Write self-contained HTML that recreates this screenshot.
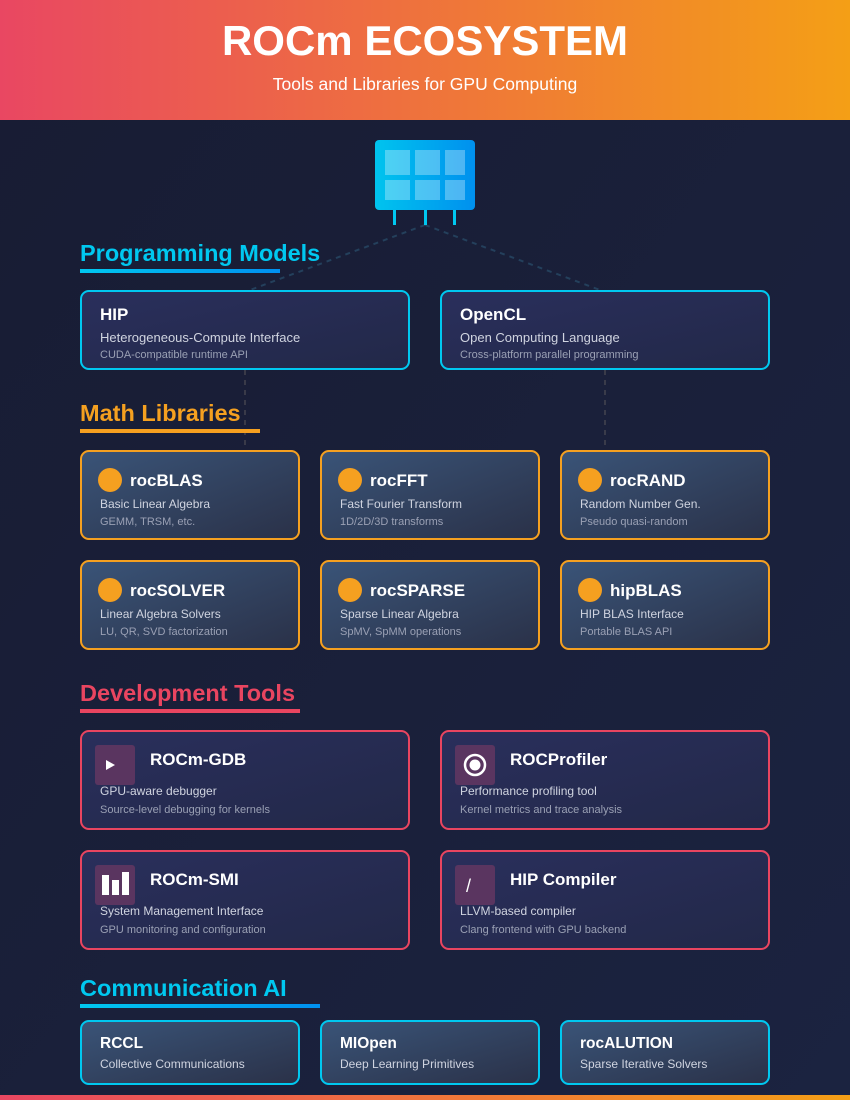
<!DOCTYPE html>
<html><head><meta charset="utf-8"><style>
html,body{margin:0;padding:0;width:850px;height:1100px;overflow:hidden;background:#1a1d35}
svg{display:block}
text{font-family:"Liberation Sans",sans-serif}
</style></head><body>
<svg width="850" height="1100" viewBox="0 0 850 1100" xmlns="http://www.w3.org/2000/svg">
<defs>
<linearGradient id="hdr" x1="0" y1="0" x2="1" y2="0"><stop offset="0" stop-color="#e94762"/><stop offset="1" stop-color="#f49f16"/></linearGradient>
<linearGradient id="bg" x1="0" y1="0" x2="1" y2="1"><stop offset="0" stop-color="#181c33"/><stop offset="1" stop-color="#1b2340"/></linearGradient>
<linearGradient id="gpu" x1="0" y1="0" x2="1" y2="0"><stop offset="0" stop-color="#00c4ee"/><stop offset="1" stop-color="#0090ee"/></linearGradient>
<linearGradient id="ul" x1="0" y1="0" x2="1" y2="0"><stop offset="0" stop-color="#00c8f0"/><stop offset="1" stop-color="#0090f0"/></linearGradient>
<linearGradient id="card1" x1="0" y1="0" x2="1" y2="1"><stop offset="0" stop-color="#2a2f5c"/><stop offset="1" stop-color="#222848"/></linearGradient>
<linearGradient id="card2" x1="0" y1="0" x2="1" y2="1"><stop offset="0" stop-color="#3a5478"/><stop offset="1" stop-color="#2a3148"/></linearGradient>
</defs>
<rect width="850" height="1100" fill="url(#bg)"/>
<rect width="850" height="120" fill="url(#hdr)"/>
<rect y="1095" width="850" height="5" fill="url(#hdr)"/>
<text x="425" y="55" text-anchor="middle" font-size="42" font-weight="bold" fill="#fff">ROCm ECOSYSTEM</text>
<text x="425" y="90" text-anchor="middle" font-size="17.5" fill="#fff">Tools and Libraries for GPU Computing</text>

<g stroke="#24405c" stroke-width="2" stroke-dasharray="5,5" fill="none">
<line x1="425" y1="225" x2="250" y2="290"/><line x1="425" y1="225" x2="600" y2="290"/>
</g>
<g stroke="#44444f" stroke-width="1.5" stroke-dasharray="5,5">
<line x1="245" y1="370" x2="245" y2="450"/><line x1="605" y1="370" x2="605" y2="450"/>
</g>

<rect x="375" y="140" width="100" height="70" rx="4" fill="url(#gpu)"/>
<g fill="#ffffff" fill-opacity="0.3">
<rect x="385" y="150" width="25" height="25"/><rect x="415" y="150" width="25" height="25"/><rect x="445" y="150" width="20" height="25"/>
<rect x="385" y="180" width="25" height="20"/><rect x="415" y="180" width="25" height="20"/><rect x="445" y="180" width="20" height="20"/>
</g>
<g fill="#00c8f0"><rect x="393" y="210" width="3" height="15"/><rect x="424" y="210" width="3" height="15"/><rect x="453" y="210" width="3" height="15"/></g>

<text x="80" y="261" font-size="23.5" font-weight="bold" fill="#00c8f0">Programming Models</text>
<rect x="80" y="269" width="200" height="4" fill="url(#ul)"/>
<g>
<rect x="81" y="291" width="328" height="78" rx="8" fill="url(#card1)" stroke="#00c8f0" stroke-width="2"/>
<text x="100" y="320" font-size="17" font-weight="bold" fill="#fff">HIP</text>
<text x="100" y="342" font-size="13" fill="#d0d4e0">Heterogeneous-Compute Interface</text>
<text x="100" y="358" font-size="11" fill="#9aa0b4">CUDA-compatible runtime API</text>
<rect x="441" y="291" width="328" height="78" rx="8" fill="url(#card1)" stroke="#00c8f0" stroke-width="2"/>
<text x="460" y="320" font-size="17" font-weight="bold" fill="#fff">OpenCL</text>
<text x="460" y="342" font-size="13" fill="#d0d4e0">Open Computing Language</text>
<text x="460" y="358" font-size="11" fill="#9aa0b4">Cross-platform parallel programming</text>
</g>

<text x="80" y="421" font-size="23.5" font-weight="bold" fill="#f5a020">Math Libraries</text>
<rect x="80" y="429" width="180" height="4" fill="#f5a020"/>
<g font-size="12">
<rect x="81" y="451" width="218" height="88" rx="8" fill="url(#card2)" stroke="#f5a020" stroke-width="2"/>
<circle cx="110" cy="480" r="12" fill="#f5a020"/>
<text x="130" y="486" font-size="17" font-weight="bold" fill="#fff">rocBLAS</text>
<text x="100" y="508" fill="#d0d4e0">Basic Linear Algebra</text>
<text x="100" y="525" font-size="11" fill="#9aa0b4">GEMM, TRSM, etc.</text>

<rect x="321" y="451" width="218" height="88" rx="8" fill="url(#card2)" stroke="#f5a020" stroke-width="2"/>
<circle cx="350" cy="480" r="12" fill="#f5a020"/>
<text x="370" y="486" font-size="17" font-weight="bold" fill="#fff">rocFFT</text>
<text x="340" y="508" fill="#d0d4e0">Fast Fourier Transform</text>
<text x="340" y="525" font-size="11" fill="#9aa0b4">1D/2D/3D transforms</text>

<rect x="561" y="451" width="208" height="88" rx="8" fill="url(#card2)" stroke="#f5a020" stroke-width="2"/>
<circle cx="590" cy="480" r="12" fill="#f5a020"/>
<text x="610" y="486" font-size="17" font-weight="bold" fill="#fff">rocRAND</text>
<text x="580" y="508" fill="#d0d4e0">Random Number Gen.</text>
<text x="580" y="525" font-size="11" fill="#9aa0b4">Pseudo quasi-random</text>

<rect x="81" y="561" width="218" height="88" rx="8" fill="url(#card2)" stroke="#f5a020" stroke-width="2"/>
<circle cx="110" cy="590" r="12" fill="#f5a020"/>
<text x="130" y="596" font-size="17" font-weight="bold" fill="#fff">rocSOLVER</text>
<text x="100" y="618" fill="#d0d4e0">Linear Algebra Solvers</text>
<text x="100" y="635" font-size="11" fill="#9aa0b4">LU, QR, SVD factorization</text>

<rect x="321" y="561" width="218" height="88" rx="8" fill="url(#card2)" stroke="#f5a020" stroke-width="2"/>
<circle cx="350" cy="590" r="12" fill="#f5a020"/>
<text x="370" y="596" font-size="17" font-weight="bold" fill="#fff">rocSPARSE</text>
<text x="340" y="618" fill="#d0d4e0">Sparse Linear Algebra</text>
<text x="340" y="635" font-size="11" fill="#9aa0b4">SpMV, SpMM operations</text>

<rect x="561" y="561" width="208" height="88" rx="8" fill="url(#card2)" stroke="#f5a020" stroke-width="2"/>
<circle cx="590" cy="590" r="12" fill="#f5a020"/>
<text x="610" y="596" font-size="17" font-weight="bold" fill="#fff">hipBLAS</text>
<text x="580" y="618" fill="#d0d4e0">HIP BLAS Interface</text>
<text x="580" y="635" font-size="11" fill="#9aa0b4">Portable BLAS API</text>
</g>

<text x="80" y="701" font-size="23.5" font-weight="bold" fill="#e94560">Development Tools</text>
<rect x="80" y="709" width="220" height="4" fill="#e94560"/>
<g font-size="12">
<rect x="81" y="731" width="328" height="98" rx="8" fill="url(#card1)" stroke="#e94560" stroke-width="2"/>
<rect x="95" y="745" width="40" height="40" rx="3" fill="#5a3560"/>
<polygon points="106,760 115,765 106,770" fill="#fff"/>
<text x="150" y="765" font-size="17" font-weight="bold" fill="#fff">ROCm-GDB</text>
<text x="100" y="795" fill="#d0d4e0">GPU-aware debugger</text>
<text x="100" y="813" font-size="11" fill="#9aa0b4">Source-level debugging for kernels</text>

<rect x="441" y="731" width="328" height="98" rx="8" fill="url(#card1)" stroke="#e94560" stroke-width="2"/>
<rect x="455" y="745" width="40" height="40" rx="3" fill="#5a3560"/>
<circle cx="475" cy="765" r="10" fill="none" stroke="#fff" stroke-width="2.5"/>
<circle cx="475" cy="765" r="5.5" fill="#fff"/>
<text x="510" y="765" font-size="17" font-weight="bold" fill="#fff">ROCProfiler</text>
<text x="460" y="795" fill="#d0d4e0">Performance profiling tool</text>
<text x="460" y="813" font-size="11" fill="#9aa0b4">Kernel metrics and trace analysis</text>

<rect x="81" y="851" width="328" height="98" rx="8" fill="url(#card1)" stroke="#e94560" stroke-width="2"/>
<rect x="95" y="865" width="40" height="40" rx="3" fill="#5a3560"/>
<rect x="102" y="875" width="7" height="20" fill="#fff"/><rect x="112" y="880" width="7" height="15" fill="#fff"/><rect x="122" y="872" width="7" height="23" fill="#fff"/>
<text x="150" y="885" font-size="17" font-weight="bold" fill="#fff">ROCm-SMI</text>
<text x="100" y="915" fill="#d0d4e0">System Management Interface</text>
<text x="100" y="933" font-size="11" fill="#9aa0b4">GPU monitoring and configuration</text>

<rect x="441" y="851" width="328" height="98" rx="8" fill="url(#card1)" stroke="#e94560" stroke-width="2"/>
<rect x="455" y="865" width="40" height="40" rx="3" fill="#5a3560"/>
<text x="466" y="892" font-size="18" fill="#fff">/</text>
<text x="510" y="885" font-size="17" font-weight="bold" fill="#fff">HIP Compiler</text>
<text x="460" y="915" fill="#d0d4e0">LLVM-based compiler</text>
<text x="460" y="933" font-size="11" fill="#9aa0b4">Clang frontend with GPU backend</text>
</g>

<text x="80" y="996" font-size="23.5" font-weight="bold" fill="#00c8f0">Communication AI</text>
<rect x="80" y="1004" width="240" height="4" fill="url(#ul)"/>
<g font-size="12">
<rect x="81" y="1021" width="218" height="63" rx="8" fill="url(#card2)" stroke="#00c8f0" stroke-width="2"/>
<text x="100" y="1048" font-size="15.5" font-weight="bold" fill="#fff">RCCL</text>
<text x="100" y="1068" fill="#d0d4e0">Collective Communications</text>
<rect x="321" y="1021" width="218" height="63" rx="8" fill="url(#card2)" stroke="#00c8f0" stroke-width="2"/>
<text x="340" y="1048" font-size="15.5" font-weight="bold" fill="#fff">MIOpen</text>
<text x="340" y="1068" fill="#d0d4e0">Deep Learning Primitives</text>
<rect x="561" y="1021" width="208" height="63" rx="8" fill="url(#card2)" stroke="#00c8f0" stroke-width="2"/>
<text x="580" y="1048" font-size="15.5" font-weight="bold" fill="#fff">rocALUTION</text>
<text x="580" y="1068" fill="#d0d4e0">Sparse Iterative Solvers</text>
</g>
</svg>
</body></html>
